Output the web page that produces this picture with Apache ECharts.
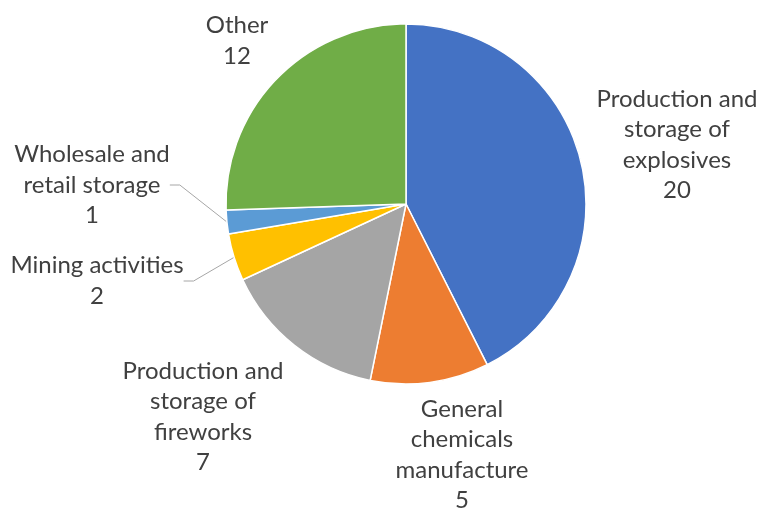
<!DOCTYPE html>
<html><head><meta charset="utf-8">
<script src="https://cdn.jsdelivr.net/npm/echarts@6/dist/echarts.min.js"></script>
<style>html,body{margin:0;padding:0;background:#fff}#c{width:763px;height:509px}</style>
</head><body><div id="c"></div>
<script>
const categories = ['Production and\nstorage of\nexplosives', 'General\nchemicals\nmanufacture', 'Production and\nstorage of\nfireworks', 'Mining activities', 'Wholesale and\nretail storage', 'Other'];
const values = [20, 5, 7, 2, 1, 12];
const colors = ['#4472C4', '#ED7D31', '#A5A5A5', '#FFC000', '#5B9BD5', '#70AD47'];
const labelPos = [[677, 145], [462, 455], [203, 417], [97, 281], [92, 185], [237, 41]];
const showLine = [false, false, false, true, true, false];

const chart = echarts.init(document.getElementById('c'));
chart.setOption({
  animation: false,
  series: [{
    type: 'pie',
    center: [406, 204],
    radius: 180,
    startAngle: 90,
    clockwise: true,
    avoidLabelOverlap: false,
    itemStyle: { borderColor: '#fff', borderWidth: 1.5 },
    label: {
      show: true,
      formatter: p => p.name + '\n' + p.value,
      fontFamily: 'Lato, sans-serif',
      fontSize: 24,
      lineHeight: 30.5,
      color: '#404040',
      align: 'center'
    },
    labelLine: { show: true, lineStyle: { color: '#A6A6A6', width: 1 }, length: 10, length2: 10 },
    labelLayout: function (params) {
      const p = labelPos[params.dataIndex];
      return { x: p[0], y: p[1], align: 'center', verticalAlign: 'middle' };
    },
    data: categories.map((c, i) => ({
      name: c, value: values[i],
      itemStyle: { color: colors[i] },
      labelLine: { show: showLine[i] }
    }))
  }]
});
</script></body></html>
